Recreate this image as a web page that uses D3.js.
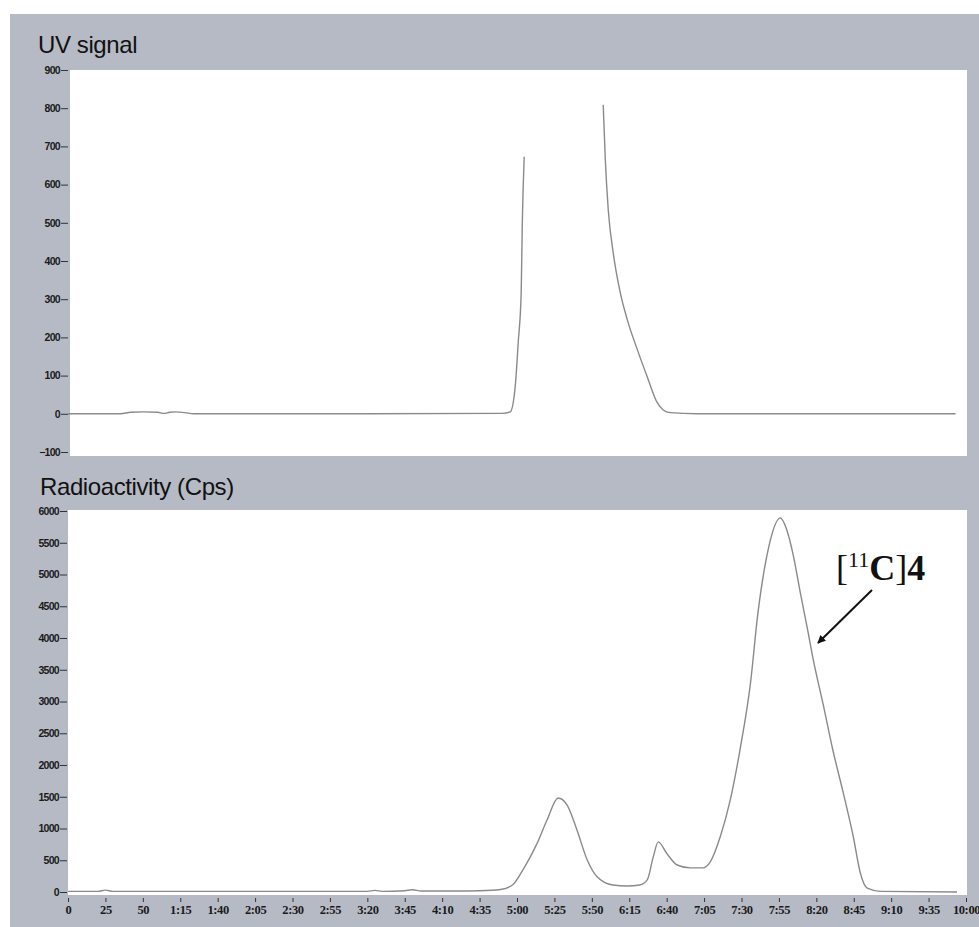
<!DOCTYPE html>
<html>
<head>
<meta charset="utf-8">
<script src="https://cdn.jsdelivr.net/npm/d3@7"></script>
<style>
  body { margin: 0; background: #fff; }
  .ytick text { font-family: "Liberation Sans Narrow", "Liberation Sans", sans-serif; font-size: 10.5px; font-weight: bold; fill: #1a1a1a; letter-spacing: -0.7px; }
  .xtick text { font-family: "Liberation Serif", serif; font-size: 12.5px; font-weight: bold; fill: #1a1a1a; letter-spacing: -0.4px; }
  .tick line { stroke: #333; }
  .panelTitle { font-family: "Liberation Sans", Arial, sans-serif; font-size: 24px; fill: #111; letter-spacing: -0.4px; }
</style>
</head>
<body>
<div id="chart"></div>
<script>
// time axis (seconds) and its labels as printed
const timeTicks = d3.range(0, 601, 25);
const timeLabels = ["0", "25", "50", "1:15", "1:40", "2:05", "2:30", "2:55", "3:20", "3:45", "4:10", "4:35",
    "5:00", "5:25", "5:50", "6:15", "6:40", "7:05", "7:30", "7:55", "8:20", "8:45", "9:10", "9:35", "10:00"];

// UV trace (null = trace broken off-scale)
const uvTime   = [0, 35, 42, 50, 60, 64, 68, 72, 78, 84, 200, 290, 295.5, 298.8, 300.8, 302.8, 303.5, 304.8,
    330, 357.6, 359, 361, 364.3, 369, 373.7, 380.4, 387, 393.7, 397.7, 402.4, 420, 593];
const uvSignal = [0, 0, 4, 5, 4, 1, 4, 5, 3, 0, 0, 1, 5, 71, 186, 317, 490, 673,
    null, 809, 665, 533, 421, 317, 246, 168, 97, 29, 10, 3, 0, 0];
const uvTicks = [-100, 0, 100, 200, 300, 400, 500, 600, 700, 800, 900];

// radioactivity trace
const radTime = [0, 20, 25, 30, 100, 200, 205, 210, 225, 230, 236, 260, 275, 289, 297, 304, 313.5, 320, 327.5,
    333.5, 340, 347, 353.5, 364, 373.6, 382, 387, 391, 394.4, 400, 407, 415.7, 424.4, 429, 435.8, 442.5,
    449, 456, 461, 467, 476, 480, 484.6, 489, 494, 498, 504.6, 511, 518, 524.7, 529.4, 534, 542.7, 594];
const radCps = [10, 10, 30, 10, 10, 10, 25, 10, 20, 35, 15, 15, 20, 40, 110, 350, 770, 1130, 1480,
    1370, 980, 500, 240, 110, 95, 110, 190, 550, 790, 610, 425, 380, 380, 470, 870, 1450,
    2240, 3290, 4400, 5300, 5890, 5720, 5300, 4750, 4150, 3650, 2950, 2240, 1560, 870, 300, 60, 10, 0];
const radTicks = d3.range(0, 6001, 500);

const width = 979, height = 927;

let svg = d3.select("#chart").append("svg")
    .attr("width", width)
    .attr("height", height);

// gray frame
svg.append("rect")
    .attr("x", 10).attr("y", 14)
    .attr("width", width - 10).attr("height", height - 14)
    .attr("fill", "#b6bac5");

let x = d3.scaleLinear().domain([0, 600]).range([68, 966]);
let yUV = d3.scaleLinear().domain([-100, 900]).range([452, 70]);
let yRad = d3.scaleLinear().domain([0, 6000]).range([892, 511]);

// plot areas
svg.append("rect").attr("x", 70).attr("y", 70).attr("width", 897).attr("height", 386).attr("fill", "#fff");
svg.append("rect").attr("x", 68).attr("y", 510).attr("width", 899).attr("height", 385).attr("fill", "#fff");

// titles
svg.append("text").attr("class", "panelTitle").attr("x", 38).attr("y", 53).text("UV signal");
svg.append("text").attr("class", "panelTitle").attr("x", 40).attr("y", 495).text("Radioactivity (Cps)");

// y axes
let uvAxis = svg.append("g")
    .attr("class", "ytick")
    .attr("transform", "translate(68,0)")
    .call(d3.axisLeft(yUV).tickValues(uvTicks).tickSize(7).tickPadding(1).tickFormat(d3.format("d")));
uvAxis.select(".domain").remove();

let radAxis = svg.append("g")
    .attr("class", "ytick")
    .attr("transform", "translate(67,0)")
    .call(d3.axisLeft(yRad).tickValues(radTicks).tickSize(7).tickPadding(1).tickFormat(d3.format("d")));
radAxis.select(".domain").remove();

// x axis
let xAxis = svg.append("g")
    .attr("class", "xtick")
    .attr("transform", "translate(0,898)")
    .call(d3.axisBottom(x).tickValues(timeTicks).tickSize(4).tickPadding(3)
        .tickFormat((d, i) => timeLabels[i]));
xAxis.select(".domain").remove();

// traces
let uvData = uvTime.map((t, i) => ({t: t, v: uvSignal[i]}));
let radData = radTime.map((t, i) => ({t: t, v: radCps[i]}));

let uvLine = d3.line()
    .defined(d => d.v != null)
    .x(d => x(d.t))
    .y(d => yUV(d.v))
    .curve(d3.curveMonotoneX);

let radLine = d3.line()
    .x(d => x(d.t))
    .y(d => yRad(d.v))
    .curve(d3.curveMonotoneX);

svg.append("path")
    .datum(uvData)
    .attr("d", uvLine)
    .attr("fill", "none")
    .attr("stroke", "#8a8a8a")
    .attr("stroke-width", 1.4);

svg.append("path")
    .datum(radData)
    .attr("d", radLine)
    .attr("fill", "none")
    .attr("stroke", "#8a8a8a")
    .attr("stroke-width", 1.4);

// annotation
svg.append("defs").append("marker")
    .attr("id", "arrowHead")
    .attr("viewBox", "0 0 10 10")
    .attr("refX", 9).attr("refY", 5)
    .attr("markerWidth", 10).attr("markerHeight", 8)
    .attr("markerUnits", "userSpaceOnUse")
    .attr("orient", "auto")
    .append("path")
    .attr("d", "M0,0 L10,5 L0,10 Z")
    .attr("fill", "#111");

svg.append("line")
    .attr("x1", 872).attr("y1", 590)
    .attr("x2", 818).attr("y2", 643)
    .attr("stroke", "#111")
    .attr("stroke-width", 2)
    .attr("marker-end", "url(#arrowHead)");

let label = svg.append("text")
    .attr("x", 836).attr("y", 580)
    .style("font-family", "'Liberation Serif', serif")
    .style("font-size", "36px")
    .style("fill", "#111");
label.append("tspan").text("[");
label.append("tspan").attr("dy", -13).style("font-size", "22px").text("11");
label.append("tspan").attr("dy", 13).style("font-weight", "bold").text("C");
label.append("tspan").text("]");
label.append("tspan").style("font-weight", "bold").text("4");
</script>
</body>
</html>
